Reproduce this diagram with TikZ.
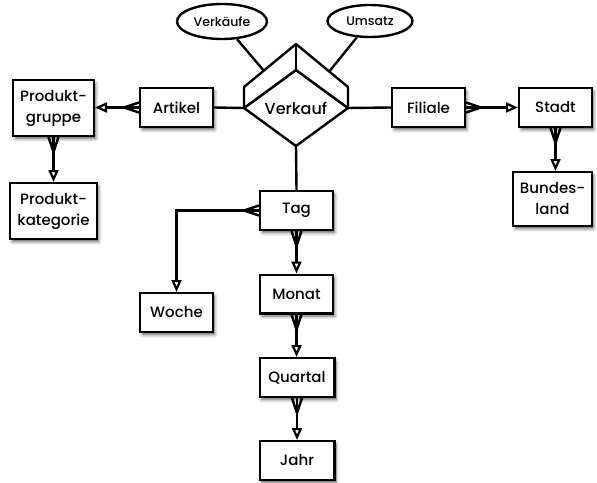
\documentclass[tikz,border=0pt]{standalone}
\usepackage{fontspec}
\setmainfont{Poppins}[UprightFont={* Medium}]
\usetikzlibrary{arrows.meta,shapes.geometric,shadows.blur,calc}

% crow's foot at a node anchor: #1 anchor, (#2,#3) unit direction away from the node
\newcommand\manyend[3]{%
  \draw[link, line join=round]
    ($(#1)+({5*#3},{5*#2})$) -- ($(#1)+({15*#2},{15*#3})$) -- ($(#1)-({5*#3},{5*#2})$);}

\begin{document}
\begin{tikzpicture}[x=1pt, y=-1pt,
  entity/.style={draw, line width=2.4pt, fill=white, minimum width=72.6pt, minimum height=38.6pt,
    inner sep=2pt, align=center, font=\fontsize{15}{21}\selectfont,
    blur shadow={shadow xshift=2pt, shadow yshift=-3pt, shadow blur radius=3pt, shadow opacity=60}},
  attr/.style={draw, ellipse, line width=2.4pt, fill=white, inner sep=0pt,
    font=\fontsize{12.5}{14}\selectfont},
  link/.style={line width=2.4pt},
  one/.style={-{Triangle[open, length=12pt, width=10pt, line width=2.2pt]}},
]
\useasboundingbox (0,0) rectangle (597,482);

% fact: the relationship diamond with its raised top face
\node[diamond, draw, line width=2.4pt, fill=white, minimum width=104pt, minimum height=76pt,
  inner sep=0pt, outer sep=0pt, font=\fontsize{16}{20}\selectfont] (verkauf) at (296,108) {Verkauf};
\coordinate (lu) at ($(verkauf.west)+(0,-21)$);
\coordinate (ru) at ($(verkauf.east)+(0,-21)$);
\coordinate (bt) at ($(verkauf.north)+(0,-26)$);
\filldraw[link, fill=white, line join=round]
  (verkauf.west) -- (lu) -- (bt) -- (ru) -- (verkauf.east) -- (verkauf.north) -- cycle;
\draw[link] (bt) -- (verkauf.north);

% measures
\node[attr, minimum width=90pt, minimum height=35pt] (verkaeufe) at (222,21.5) {Verkäufe};
\node[attr, minimum width=85pt, minimum height=32pt] (umsatz) at (370,21) {Umsatz};
\draw[link] (verkaeufe) -- ($(lu)!0.38!(bt)$);
\draw[link] (umsatz) -- ($(ru)!0.36!(bt)$);

% dimension levels
\node[entity] (artikel) at (176.5,107.5) {Artikel};
\node[entity, minimum width=80.6pt, minimum height=55.6pt] (gruppe) at (53.5,108) {Produkt-\\gruppe};
\node[entity, minimum width=86.6pt, minimum height=55.6pt] (kategorie) at (53.5,211) {Produkt-\\kategorie};
\node[entity] (filiale) at (428.5,107.5) {Filiale};
\node[entity] (stadt) at (555.5,107.5) {Stadt};
\node[entity, minimum width=78.6pt, minimum height=53.6pt] (land) at (552.5,199) {Bundes-\\land};
\node[entity] (tag) at (296.5,210.5) {Tag};
\node[entity] (woche) at (176.5,312.5) {Woche};
\node[entity] (monat) at (296.5,294) {Monat};
\node[entity, minimum width=74.6pt] (quartal) at (297,377.5) {Quartal};
\node[entity, minimum width=74.6pt] (jahr) at (297,460.5) {Jahr};

% fact to dimensions
\draw[link] (artikel.east) -- (verkauf.west);
\draw[link] (verkauf.east) -- (filiale.west);
\draw[link] (verkauf.south) -- (tag.north);

% hierarchies (many -> one)
\draw[link, one] (artikel.west) -- (artikel.west -| gruppe.east);
\manyend{artikel.west}{-1}{0}
\draw[link, one] (gruppe.south) -- (kategorie.north);
\manyend{gruppe.south}{0}{1}
\draw[link, one] (filiale.east) -- (filiale.east -| stadt.west);
\manyend{filiale.east}{1}{0}
\draw[link, one] (stadt.south) -- (stadt.south |- land.north);
\manyend{stadt.south}{0}{1}
\draw[link, one] (tag.west) -| (woche.north);
\manyend{tag.west}{-1}{0}
\draw[link, one] (tag.south) -- (tag.south |- monat.north);
\manyend{tag.south}{0}{1}
\draw[link, one] (monat.south) -- (monat.south |- quartal.north);
\manyend{monat.south}{0}{1}
\draw[link, one] (quartal.south) -- (quartal.south |- jahr.north);
\manyend{quartal.south}{0}{1}
\end{tikzpicture}
\end{document}
